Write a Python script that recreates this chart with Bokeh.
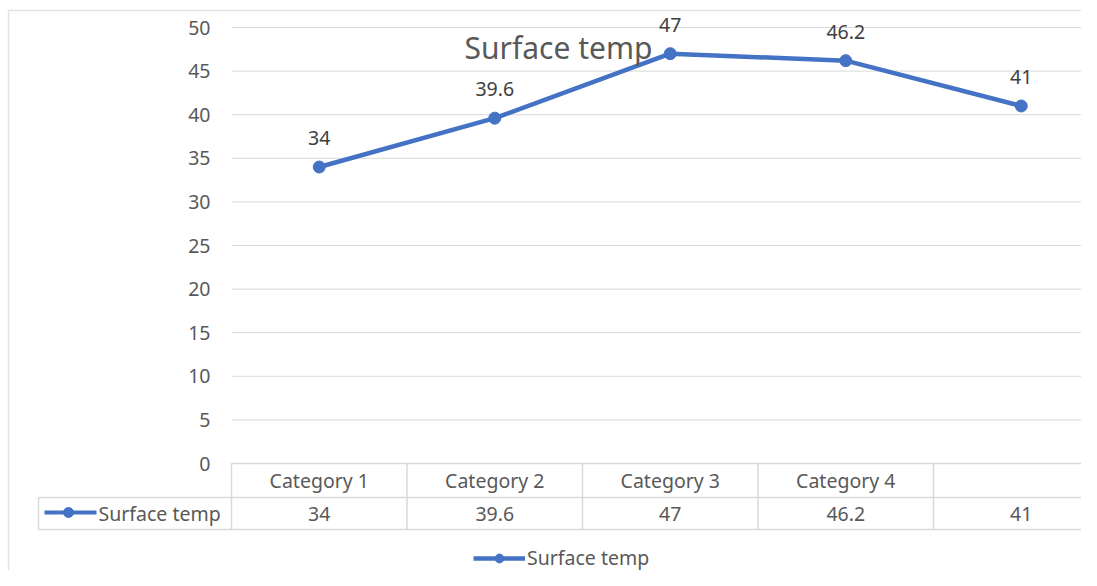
from bokeh.plotting import figure
from bokeh.models import Range1d, Legend, LegendItem
from bokeh.embed import file_html
from bokeh.resources import INLINE
from bokeh.core.properties import value

# ---- data ----
categories = ["Category 1", "Category 2", "Category 3", "Category 4", ""]
series_name = "Surface temp"
temps = [34, 39.6, 47, 46.2, 41]
y_ticks = [0, 5, 10, 15, 20, 25, 30, 35, 40, 45, 50]

# ---- geometry helpers (canvas pixels -> data) ----
W, H = 1081, 570
BAND = 175.5
X_C0 = 318.75
Y_ZERO = 463.0
UNIT = 8.72

def xd(px):
    return (px - X_C0) / BAND

def yd(py):
    return (Y_ZERO - py) / UNIT

FONT = value("Noto Sans")
BLUE = "#4472C4"
GRID = "#d9d9d9"
TXT = "#595959"
FS = "19.5px"

p = figure(width=W, height=H, x_range=Range1d(xd(0), xd(W)),
           y_range=Range1d(yd(H), yd(0)),
           toolbar_location=None, output_backend="svg",
           x_axis_location=None, y_axis_location=None, min_border=0)
p.grid.visible = False
p.outline_line_color = None
p.background_fill_color = "white"
p.border_fill_color = "white"

idx = list(range(len(categories)))
n = len(categories)
x_right = xd(W) + 1

# chart border (left and top edges)
p.segment(x0=[xd(8), xd(8)], x1=[xd(8), x_right], y0=[yd(10), yd(10)],
          y1=[yd(H) - 1, yd(10)], line_color="#e3e3e3", line_width=1.5)

# gridlines
p.segment(x0=[-0.5] * len(y_ticks), x1=[x_right] * len(y_ticks),
          y0=y_ticks, y1=y_ticks, line_color=GRID, line_width=1)

# y tick labels
p.text(x=[xd(210)] * len(y_ticks), y=y_ticks, text=[str(t) for t in y_ticks],
       text_font=FONT, text_font_size=FS, text_color=TXT,
       text_align="right", text_baseline="middle")

# data table
row1_top, row1_bot, row2_bot = yd(463), yd(497), yd(529)
bounds = [i - 0.5 for i in idx]
p.segment(x0=bounds, x1=bounds, y0=[row1_top] * n, y1=[row2_bot] * n,
          line_color=GRID, line_width=1.5)
p.segment(x0=[xd(38)], x1=[xd(38)], y0=[row1_bot], y1=[row2_bot],
          line_color=GRID, line_width=1.5)
p.segment(x0=[-0.5, xd(38), xd(38)], x1=[x_right] * 3,
          y0=[row1_top, row1_bot, row2_bot], y1=[row1_top, row1_bot, row2_bot],
          line_color=GRID, line_width=1.5)
p.text(x=idx, y=[yd(480)] * n, text=categories, text_font=FONT,
       text_font_size=FS, text_color=TXT, text_align="center",
       text_baseline="middle")
p.text(x=idx, y=[yd(513)] * n, text=[str(v) for v in temps], text_font=FONT,
       text_font_size=FS, text_color=TXT, text_align="center",
       text_baseline="middle")
# legend key inside the table
p.line(x=[xd(44), xd(96)], y=[yd(512)] * 2, line_color=BLUE, line_width=4)
p.scatter(x=[xd(68)], y=[yd(512)], size=10, color=BLUE)
p.text(x=[xd(98)], y=[yd(513)], text=[series_name], text_font=FONT,
       text_font_size=FS, text_color=TXT, text_align="left",
       text_baseline="middle")

# series
ln = p.line(x=idx, y=temps, line_color=BLUE, line_width=4.5)
mk = p.scatter(x=idx, y=temps, size=12, color=BLUE)
p.text(x=idx, y=temps, text=[str(v) for v in temps], y_offset=-29,
       text_font=FONT, text_font_size=FS, text_color="#404040",
       text_align="center", text_baseline="middle")

# title
p.text(x=[xd(558)], y=[yd(47)], text=[series_name], text_font=FONT,
       text_font_size="30px", text_color=TXT, text_align="center",
       text_baseline="middle")

# bottom legend
legend = Legend(items=[LegendItem(label=series_name, renderers=[ln, mk])],
                location=(473, H - 571), orientation="horizontal",
                glyph_width=52, glyph_height=22, label_standoff=2,
                padding=0, margin=0, border_line_color=None,
                background_fill_alpha=0, label_text_font="Noto Sans",
                label_text_font_size=FS, label_text_color=TXT)
p.add_layout(legend, "center")

open("out.html", "w").write(file_html(p, INLINE))
